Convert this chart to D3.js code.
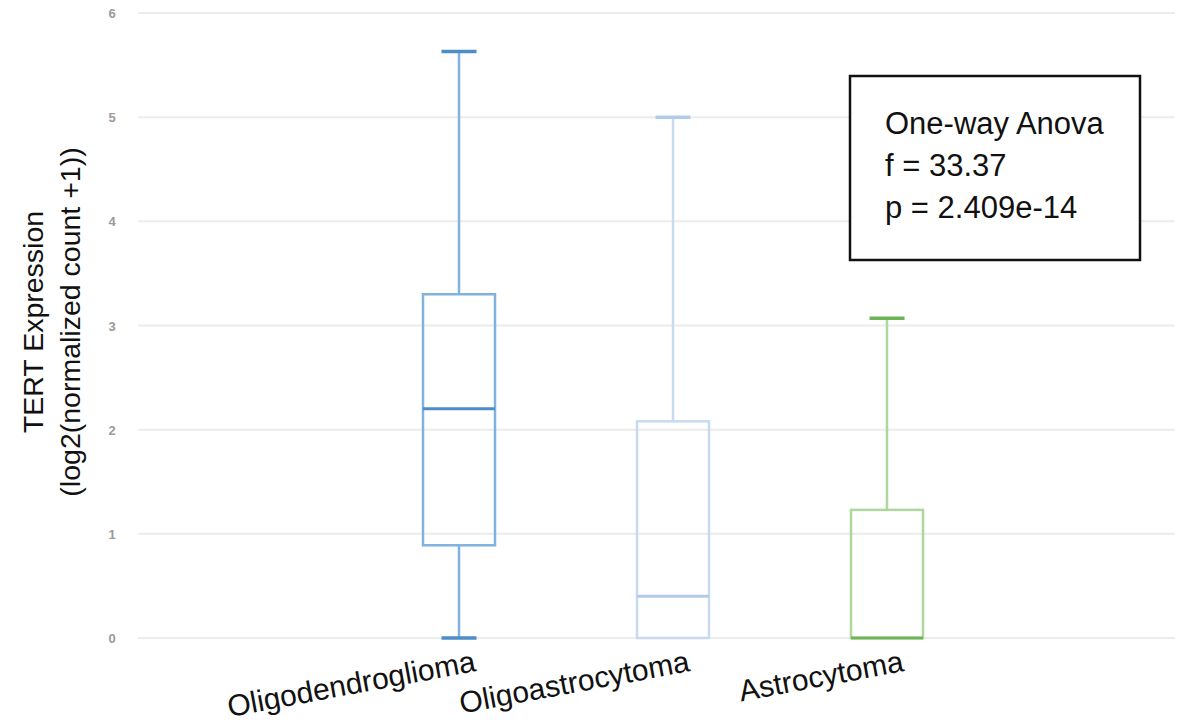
<!DOCTYPE html>
<html>
<head>
<meta charset="utf-8">
<script src="https://cdn.jsdelivr.net/npm/d3@7"></script>
<style>
  body { margin: 0; background: #fff; }
  svg { display: block; font-family: "Liberation Sans", Arial, sans-serif; }
</style>
</head>
<body>
<svg id="chart" width="1201" height="723"></svg>
<script>
// values
const categories = ['Oligodendroglioma', 'Oligoastrocytoma', 'Astrocytoma'];
const whiskerLow = [0, 0, 0];
const q1 = [0.89, 0, 0];
const median = [2.2, 0.4, 0];
const q3 = [3.3, 2.08, 1.23];
const whiskerHigh = [5.63, 5.0, 3.07];
const yTicks = [0, 1, 2, 3, 4, 5, 6];
const statLines = ['One-way Anova', 'f = 33.37', 'p = 2.409e-14'];

// colours: light line for box/whisker, darker for caps and median
const lineColor = ['#80b2dd', '#c8daf1', '#acd79f'];
const darkColor = ['#4d8dc8', '#b3cbea', '#6db457'];

const svg = d3.select('#chart');

const y = d3.scaleLinear().domain([0, 6]).range([638, 13]);
const x = d3.scaleBand().domain(categories).range([352, 994]);

const boxW = 72, capW = 35;

// gridlines
svg.append('g')
  .selectAll('line')
  .data(yTicks)
  .join('line')
  .attr('x1', 138).attr('x2', 1175)
  .attr('y1', d => y(d)).attr('y2', d => y(d))
  .attr('stroke', '#ececec')
  .attr('stroke-width', 2);

// tick labels
svg.append('g')
  .selectAll('text')
  .data(yTicks)
  .join('text')
  .attr('x', 112)
  .attr('y', d => y(d) + 5)
  .attr('text-anchor', 'middle')
  .attr('font-size', 13)
  .attr('font-weight', 'bold')
  .attr('fill', '#9a9a9a')
  .text(d => d);

// boxes
const data = categories.map((c, i) => ({
  name: c, lo: whiskerLow[i], q1: q1[i], med: median[i], q3: q3[i], hi: whiskerHigh[i], i
}));

const g = svg.append('g')
  .selectAll('g')
  .data(data)
  .join('g')
  .attr('transform', d => `translate(${x(d.name) + x.bandwidth() / 2},0)`);

// upper whisker
g.append('line')
  .attr('x1', 0).attr('x2', 0)
  .attr('y1', d => y(d.q3)).attr('y2', d => y(d.hi))
  .attr('stroke', d => lineColor[d.i])
  .attr('stroke-width', 2.5);

// lower whisker
g.filter(d => d.q1 > d.lo)
  .append('line')
  .attr('x1', 0).attr('x2', 0)
  .attr('y1', d => y(d.q1)).attr('y2', d => y(d.lo))
  .attr('stroke', d => lineColor[d.i])
  .attr('stroke-width', 2.5);

// box
g.append('rect')
  .attr('x', -boxW / 2)
  .attr('width', boxW)
  .attr('y', d => y(d.q3))
  .attr('height', d => y(d.q1) - y(d.q3))
  .attr('fill', 'none')
  .attr('stroke', d => lineColor[d.i])
  .attr('stroke-width', 2.5);

// median
g.append('line')
  .attr('x1', -boxW / 2).attr('x2', boxW / 2)
  .attr('y1', d => y(d.med)).attr('y2', d => y(d.med))
  .attr('stroke', d => darkColor[d.i])
  .attr('stroke-width', 3);

// caps
g.append('line')
  .attr('x1', -capW / 2).attr('x2', capW / 2)
  .attr('y1', d => y(d.hi)).attr('y2', d => y(d.hi))
  .attr('stroke', d => darkColor[d.i])
  .attr('stroke-width', 3.5);

g.filter(d => d.q1 > d.lo)
  .append('line')
  .attr('x1', -capW / 2).attr('x2', capW / 2)
  .attr('y1', d => y(d.lo)).attr('y2', d => y(d.lo))
  .attr('stroke', d => darkColor[d.i])
  .attr('stroke-width', 3.5);

// x labels, tilted
svg.append('g')
  .selectAll('text')
  .data(categories)
  .join('text')
  .attr('transform', d => `translate(${x(d) + x.bandwidth() / 2 + 18},671) rotate(-10.5)`)
  .attr('text-anchor', 'end')
  .attr('font-size', 30)
  .attr('fill', '#111')
  .text(d => d);

// y title
const yt = svg.append('text')
  .attr('transform', 'translate(43,322) rotate(-90)')
  .attr('text-anchor', 'middle')
  .attr('font-size', 28.5)
  .attr('fill', '#111');
yt.append('tspan').attr('x', 0).attr('dy', 0).text('TERT Expression');
yt.append('tspan').attr('x', 0).attr('dy', 37).text('(log2(normalized count +1))');

// stats box
svg.append('rect')
  .attr('x', 850).attr('y', 76)
  .attr('width', 290).attr('height', 184)
  .attr('fill', '#fff')
  .attr('stroke', '#111')
  .attr('stroke-width', 2.5);

svg.append('g')
  .selectAll('text')
  .data(statLines)
  .join('text')
  .attr('x', 885)
  .attr('y', (d, i) => 134 + i * 42)
  .attr('font-size', 31)
  .attr('fill', '#111')
  .text(d => d);
</script>
</body>
</html>
